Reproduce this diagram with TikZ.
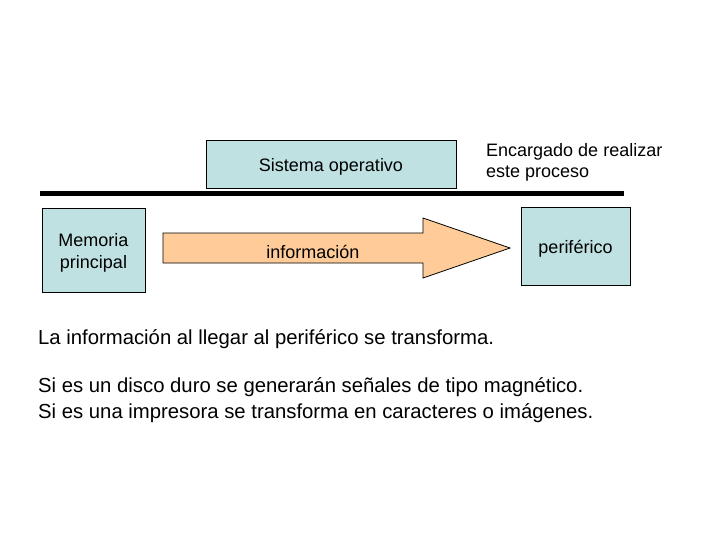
\documentclass[tikz,border=0pt]{standalone}
\usepackage{fontspec}
\setmainfont{Liberation Sans}
\definecolor{boxblue}{HTML}{BFE1E1}
\definecolor{arroworange}{HTML}{FFCC99}
\newcommand{\lowered}[1]{\raisebox{-3pt}[\height][\depth]{\begin{tabular}{@{}c@{}}#1\end{tabular}}}
\begin{document}
\begin{tikzpicture}[x=1pt,y=-1pt,
  bluebox/.style={draw=black,line width=0.8pt,fill=boxblue,inner sep=0pt,align=center,font=\fontsize{18}{22}\selectfont},
  plain/.style={inner sep=0pt,anchor=west,align=left}]
\useasboundingbox[fill=white] (0,0) rectangle (728,546);
\node[bluebox,minimum width=250pt,minimum height=48pt] (so) at (331,164) {\lowered{Sistema operativo}};
\node[plain,font=\fontsize{18}{21}\selectfont] (enc) at (486,162.5) {Encargado de realizar\\este proceso};
\coordinate (l1) at (40,193);
\coordinate (l2) at (624,193);
\draw[line width=5pt] (l1) -- (l2);
\node[bluebox,minimum width=103pt,minimum height=84pt] (mem) at (93.5,250) {\lowered{Memoria\\principal}};
\node[bluebox,minimum width=109pt,minimum height=78pt] (per) at (575.5,246) {\lowered{periférico}};
\draw[line width=0.8pt,fill=arroworange] (163,233) -- (423,233) -- (423,218) -- (510,248) -- (423,278) -- (423,263) -- (163,263) -- cycle;
\node[inner sep=0pt,font=\fontsize{18}{22}\selectfont] (inf) at (313,251.5) {información};
\node[plain,font=\fontsize{20.3}{26}\selectfont] (t1) at (38,339.5) {La información al llegar al periférico se transforma.};
\node[plain,font=\fontsize{20.3}{26}\selectfont] (t2) at (38,400.5) {Si es un disco duro se generarán señales de tipo magnético.\\Si es una impresora se transforma en caracteres o imágenes.};
\end{tikzpicture}
\end{document}
